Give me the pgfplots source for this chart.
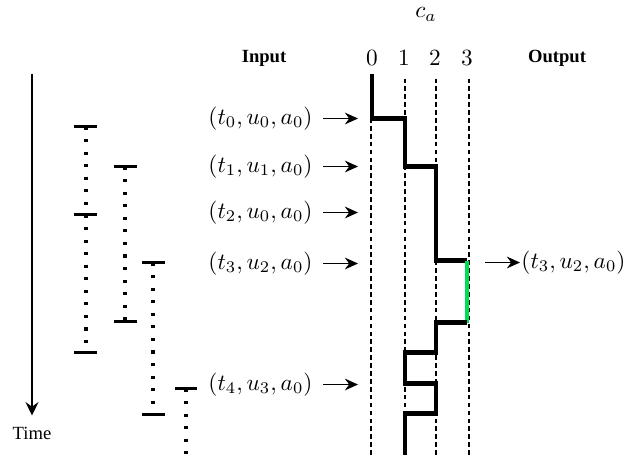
\documentclass[border=0pt]{standalone}
\usepackage{fontspec}
\setmainfont{Liberation Serif}
\usepackage{pgfplots}
\pgfplotsset{compat=1.18}
\usetikzlibrary{arrows.meta}
\definecolor{outgreen}{RGB}{0,221,85}
\tikzset{tup/.style={inner sep=0pt, font=\fontsize{9.7pt}{11pt}\selectfont}}
\begin{document}
\begin{tikzpicture}
\begin{axis}[scale only axis, width=274.77pt, height=195.22pt,
  xmin=0, xmax=639, ymin=0, ymax=454, y dir=reverse,
  axis lines=none, clip=false,
  guide/.style={black, line width=0.45pt, dash pattern=on 2pt off 1.4pt},
  cap/.style={black, line width=1.1pt},
  dots/.style={black, line width=1.45pt, dash pattern=on 1.35pt off 4.05pt},
  step/.style={black, line width=1.95pt, line join=miter},
  inarrow/.style={black, line width=0.8pt, -{Stealth[length=5.6pt, width=5pt, inset=1.8pt]}}]

% keep the whole frame as the page
\path (rel axis cs:0,0) rectangle (rel axis cs:1,1);

% time axis
\addplot[black, line width=0.6pt, -{Stealth[length=5.8pt, width=5.6pt, inset=2pt]}] coordinates {(32,73) (32,415)};
\node[font=\footnotesize] at (axis cs:32,433) {Time};

% validity intervals
\addplot[dots] coordinates {(86,126) (86,352)};
\addplot[cap] coordinates {(74,126) (97,126)};
\addplot[cap] coordinates {(74,214) (97,214)};
\addplot[cap] coordinates {(74,352) (97,352)};
\addplot[dots] coordinates {(125,166) (125,321)};
\addplot[cap] coordinates {(114,166) (137,166)};
\addplot[cap] coordinates {(114,321) (137,321)};
\addplot[dots] coordinates {(153,262) (153,414)};
\addplot[cap] coordinates {(142,262) (165,262)};
\addplot[cap] coordinates {(142,414) (165,414)};
\addplot[dots] coordinates {(186,388) (186,454)};
\addplot[cap] coordinates {(175,388) (197,388)};

% count guides
\addplot[guide] coordinates {(371,78) (371,454)};
\addplot[guide] coordinates {(405,78) (405,454)};
\addplot[guide] coordinates {(436,78) (436,454)};
\addplot[guide] coordinates {(469,78) (469,454)};

% count trajectory
\addplot[step] coordinates {
  (372,73) (372,118) (405,118) (405,166) (436,166) (436,260) (467,260)};
\addplot[outgreen, line width=1.95pt] coordinates {(467,260) (467,322)};
\addplot[step] coordinates {
  (467,322) (436,322) (436,352) (405,352) (405,383) (436,383) (436,413) (405,413) (405,454)};

% input arrows
\addplot[inarrow] coordinates {(323,118) (358,118)};
\addplot[inarrow] coordinates {(323,166) (358,166)};
\addplot[inarrow] coordinates {(323,212) (358,212)};
\addplot[inarrow] coordinates {(323,263) (358,263)};
\addplot[inarrow] coordinates {(323,384) (358,384)};
% output arrow
\addplot[inarrow] coordinates {(485,262) (520,262)};

% labels
\node[anchor=east, tup] at (axis cs:313,118) {$(t_0, u_0, a_0)$};
\node[anchor=east, tup] at (axis cs:313,166) {$(t_1, u_1, a_0)$};
\node[anchor=east, tup] at (axis cs:313,212) {$(t_2, u_0, a_0)$};
\node[anchor=east, tup] at (axis cs:313,263) {$(t_3, u_2, a_0)$};
\node[anchor=east, tup] at (axis cs:313,384) {$(t_4, u_3, a_0)$};
\node[anchor=west, tup] at (axis cs:521,262) {$(t_3, u_2, a_0)$};

\node[font=\footnotesize\bfseries] at (axis cs:264,58) {Input};
\node[font=\footnotesize\bfseries] at (axis cs:557,58) {Output};
\node at (axis cs:426,14) {$c_a$};
\node at (axis cs:372,58) {$0$};
\node at (axis cs:404,58) {$1$};
\node at (axis cs:435,58) {$2$};
\node at (axis cs:467,58) {$3$};
\end{axis}
\end{tikzpicture}
\end{document}
